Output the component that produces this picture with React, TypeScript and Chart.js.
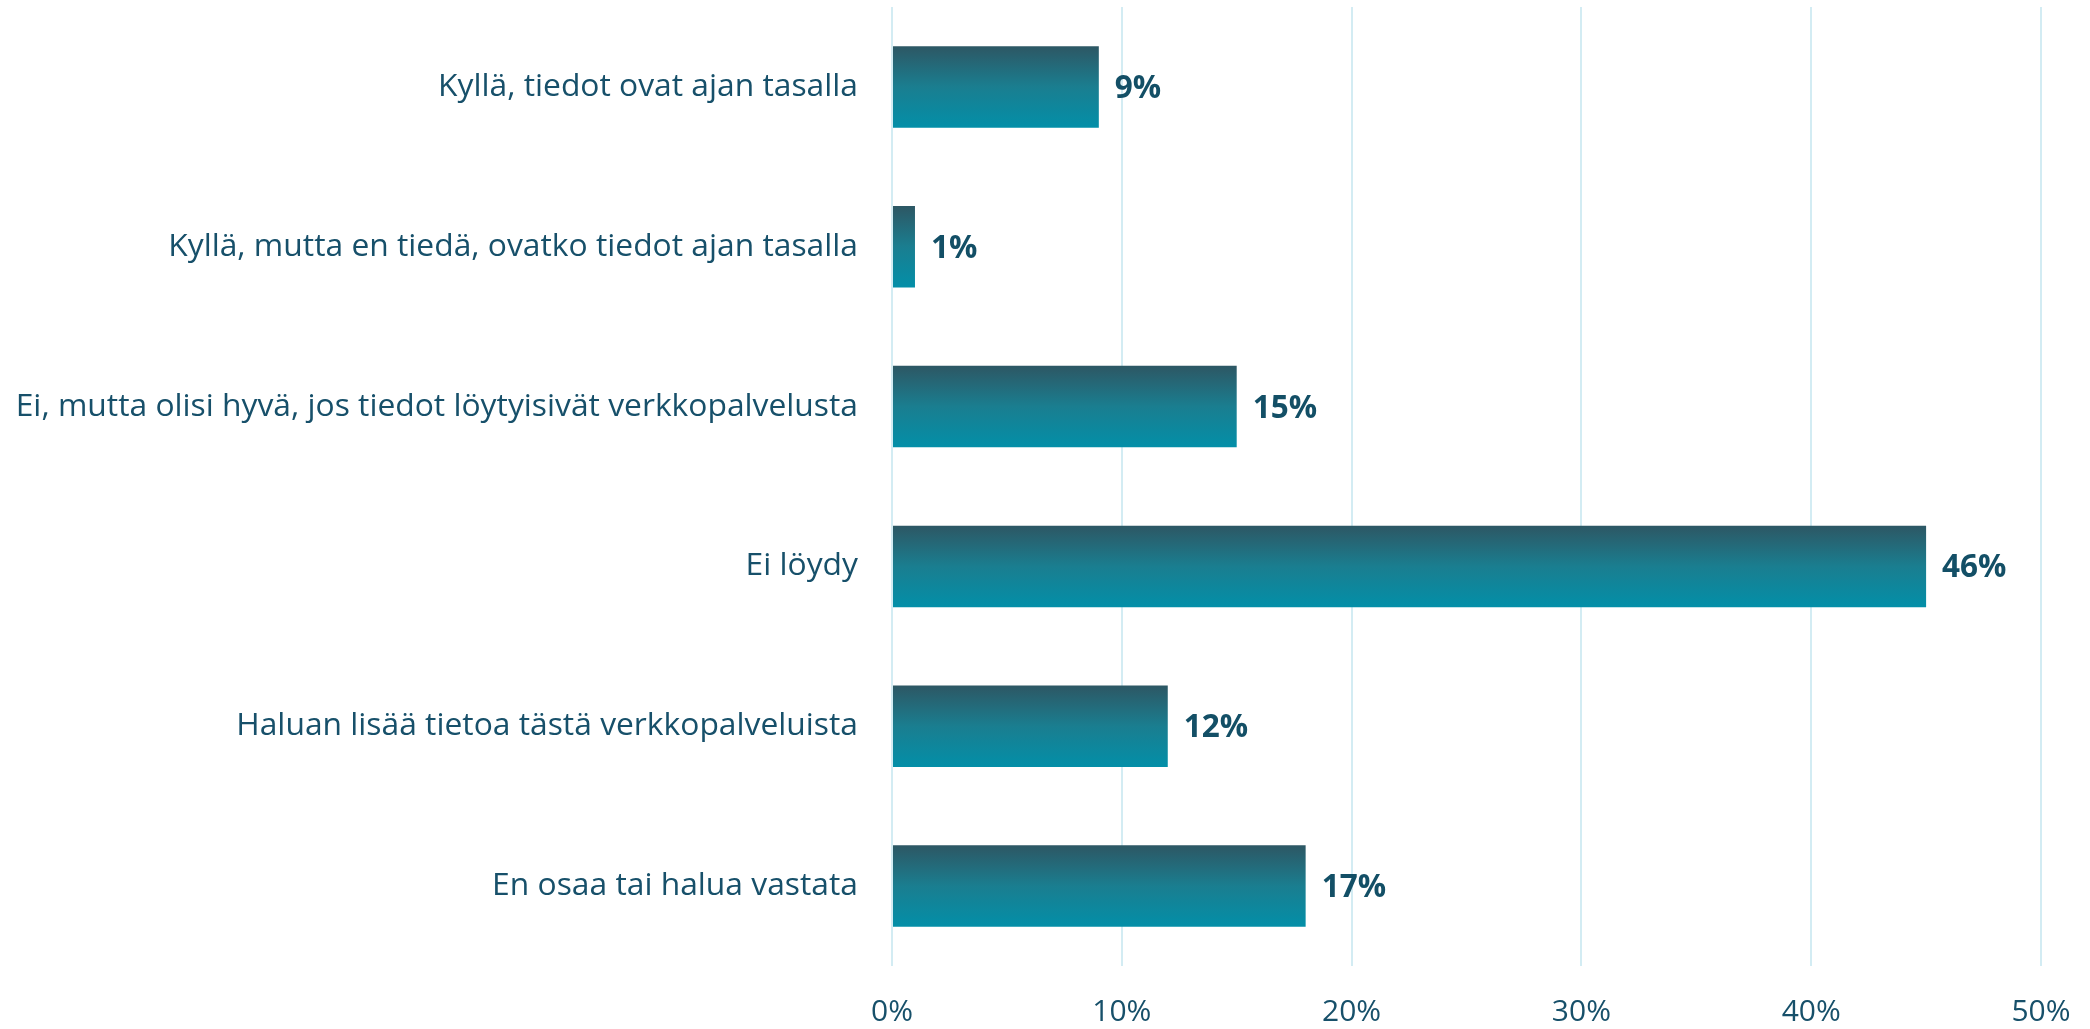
import React, { useEffect, useRef } from "react";
import { Chart, registerables } from "chart.js";

Chart.register(...registerables);

const categories = [
  "Kyllä, tiedot ovat ajan tasalla",
  "Kyllä, mutta en tiedä, ovatko tiedot ajan tasalla",
  "Ei, mutta olisi hyvä, jos tiedot löytyisivät verkkopalvelusta",
  "Ei löydy",
  "Haluan lisää tietoa tästä verkkopalveluista",
  "En osaa tai halua vastata",
];
const values = [9, 1, 15, 45, 12, 18];
const valueLabels = ["9%", "1%", "15%", "46%", "12%", "17%"];
const xTicks = [0, 10, 20, 30, 40, 50];

const TEXT = "#17506a";
const FONT = "'Open Sans', 'Noto Sans', sans-serif";

const barLabelPlugin = {
  id: "barLabels",
  afterDatasetsDraw(chart: any) {
    const ctx = chart.ctx;
    const meta = chart.getDatasetMeta(0);
    ctx.save();
    ctx.font = `bold 31.5px ${FONT}`;
    ctx.fillStyle = "#134f66";
    ctx.textAlign = "left";
    ctx.textBaseline = "middle";
    meta.data.forEach((el: any, i: number) => {
      ctx.fillText(valueLabels[i], el.x + 16, el.y + 2);
    });
    ctx.restore();
  },
};

export default function App() {
  const ref = useRef<HTMLCanvasElement>(null);
  useEffect(() => {
    document.body.style.margin = "0";
    const canvas = ref.current!;
    const chart = new Chart(canvas, {
      type: "bar",
      data: {
        labels: categories,
        datasets: [
          {
            data: values,
            backgroundColor: (c: any) => {
              const ch = c.chart;
              const area = ch.chartArea;
              const y = ch.scales?.y;
              if (!area || !y) return "#0a8da5";
              const center = y.getPixelForValue(c.dataIndex);
              const half = (area.height / categories.length) * 0.51 / 2;
              const g = ch.ctx.createLinearGradient(0, center - half, 0, center + half);
              g.addColorStop(0, "#2d5764");
              g.addColorStop(0.5, "#1a7e90");
              g.addColorStop(1, "#038fa8");
              return g;
            },
            borderWidth: 0,
            barPercentage: 0.51,
            categoryPercentage: 1,
          },
        ],
      },
      options: {
        indexAxis: "y",
        animation: false,
        responsive: false,
        maintainAspectRatio: false,
        layout: { padding: { top: 7, right: 49, left: 0, bottom: 0 } },
        plugins: { legend: { display: false }, tooltip: { enabled: false } },
        scales: {
          x: {
            min: 0,
            max: 50,
            afterBuildTicks: (s: any) => {
              s.ticks = xTicks.map((v) => ({ value: v }));
            },
            grid: { color: "#d3ecf3", lineWidth: 2, drawTicks: false },
            border: { display: false },
            ticks: {
              color: TEXT,
              font: { family: FONT, size: 30 },
              padding: 28,
              callback: (v: any) => `${v}%`,
            },
            afterFit: (s: any) => {
              s.height = 63;
              s.paddingLeft = 0;
              s.paddingRight = 0;
            },
          },
          y: {
            grid: { display: false, drawTicks: false },
            border: { display: false },
            ticks: {
              color: TEXT,
              font: { family: FONT, size: 31.8 },
              padding: 34,
            },
            afterFit: (s: any) => {
              s.width = 892;
              s.paddingTop = 0;
              s.paddingBottom = 0;
            },
          },
        },
      },
      plugins: [barLabelPlugin],
    } as any);
    return () => chart.destroy();
  }, []);
  return (
    <div style={{ width: 2090, height: 1029 }}>
      <canvas ref={ref} width={2090} height={1029} style={{ display: "block" }} />
    </div>
  );
}
